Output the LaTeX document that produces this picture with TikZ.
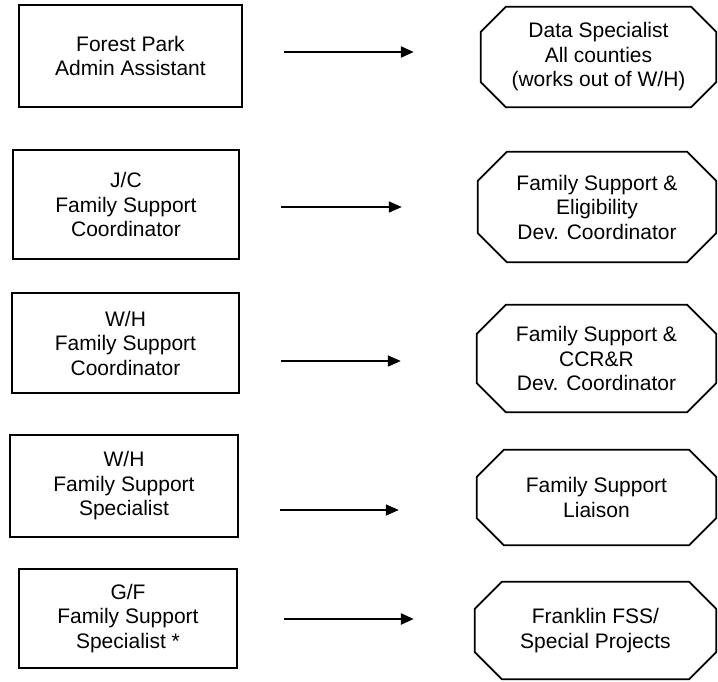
\documentclass[tikz,border=0pt]{standalone}
\usepackage{fontspec}
\setmainfont{Liberation Sans}
\usetikzlibrary{arrows.meta,calc}
\tikzset{
  txt/.style={font=\fontsize{21}{24.5}\selectfont, align=center, inner sep=0pt},
  rolebox/.style={txt, draw, line width=1.8pt, rectangle},
  octnode/.style={txt, rectangle},
  octline/.style={draw, line width=1.8pt, line join=miter},
  arr/.style={-{Triangle[length=13pt,width=11pt]}, line width=1.6pt},
  arrthick/.style={arr, line width=2.4pt},
}
\newcommand{\octagonframe}[2]{%
  \draw[octline] ([xshift=#2]#1.north west) -- ([xshift=-#2]#1.north east)
    -- ([yshift=-#2]#1.north east) -- ([yshift=#2]#1.south east)
    -- ([xshift=-#2]#1.south east) -- ([xshift=#2]#1.south west)
    -- ([yshift=#2]#1.south west) -- ([yshift=-#2]#1.north west) -- cycle;}
\begin{document}
\begin{tikzpicture}[x=1pt,y=-1pt]
\useasboundingbox (0,0) rectangle (718,681);

% left boxes
\node[rolebox, minimum width=223pt, minimum height=102pt] (b1) at (130.5,56) {Forest Park\\Admin Assistant};
\node[rolebox, minimum width=226pt, minimum height=109pt] (b2) at (126,204.5) {J/C\\Family Support\\Coordinator};
\node[rolebox, minimum width=227pt, minimum height=100pt] (b3) at (125.5,343) {W/H\\Family Support\\Coordinator};
\node[rolebox, minimum width=228pt, minimum height=102pt] (b4) at (124,486) {W/H\\Family Support\\Specialist};
\node[rolebox, minimum width=218pt, minimum height=99pt] (b5) at (128,618.5) {G/F\\Family Support\\Specialist *};

% right octagons
\node[octnode, minimum width=235pt, minimum height=100pt] (o1) at (598.5,57) {Data Specialist\\All counties\\(works out of W/H)};
\node[octnode, minimum width=238pt, minimum height=110pt] (o2) at (597,207) {Family Support \&\\Eligibility\\Dev. Coordinator};
\node[octnode, minimum width=239pt, minimum height=107pt] (o3) at (596.5,358.5) {Family Support \&\\CCR\&R\\Dev. Coordinator};
\node[octnode, minimum width=239pt, minimum height=95pt] (o4) at (596.5,497.5) {Family Support\\Liaison};
\node[octnode, minimum width=241pt, minimum height=97pt] (o5) at (595.5,630.5) {Franklin FSS/\\Special Projects};

\octagonframe{o1}{25pt}
\octagonframe{o2}{29pt}
\octagonframe{o3}{29pt}
\octagonframe{o4}{27pt}
\octagonframe{o5}{27pt}

% arrows
\draw[arrthick, shorten <=41pt, shorten >=67pt] ([yshift=4pt]b1.east) -- ([yshift=4pt]b1.east -| o1.west);
\draw[arr, shorten <=41pt, shorten >=76pt] ([yshift=-2.5pt]b2.east) -- ([yshift=-2.5pt]b2.east -| o2.west);
\draw[arr, shorten <=41pt, shorten >=76pt] ([yshift=-18pt]b3.east) -- ([yshift=-18pt]b3.east -| o3.west);
\draw[arr, shorten <=41pt, shorten >=78pt] ([yshift=-24pt]b4.east) -- ([yshift=-24pt]b4.east -| o4.west);
\draw[arrthick, shorten <=46pt, shorten >=61pt] ([yshift=-0.5pt]b5.east) -- ([yshift=-0.5pt]b5.east -| o5.west);
\end{tikzpicture}
\end{document}
